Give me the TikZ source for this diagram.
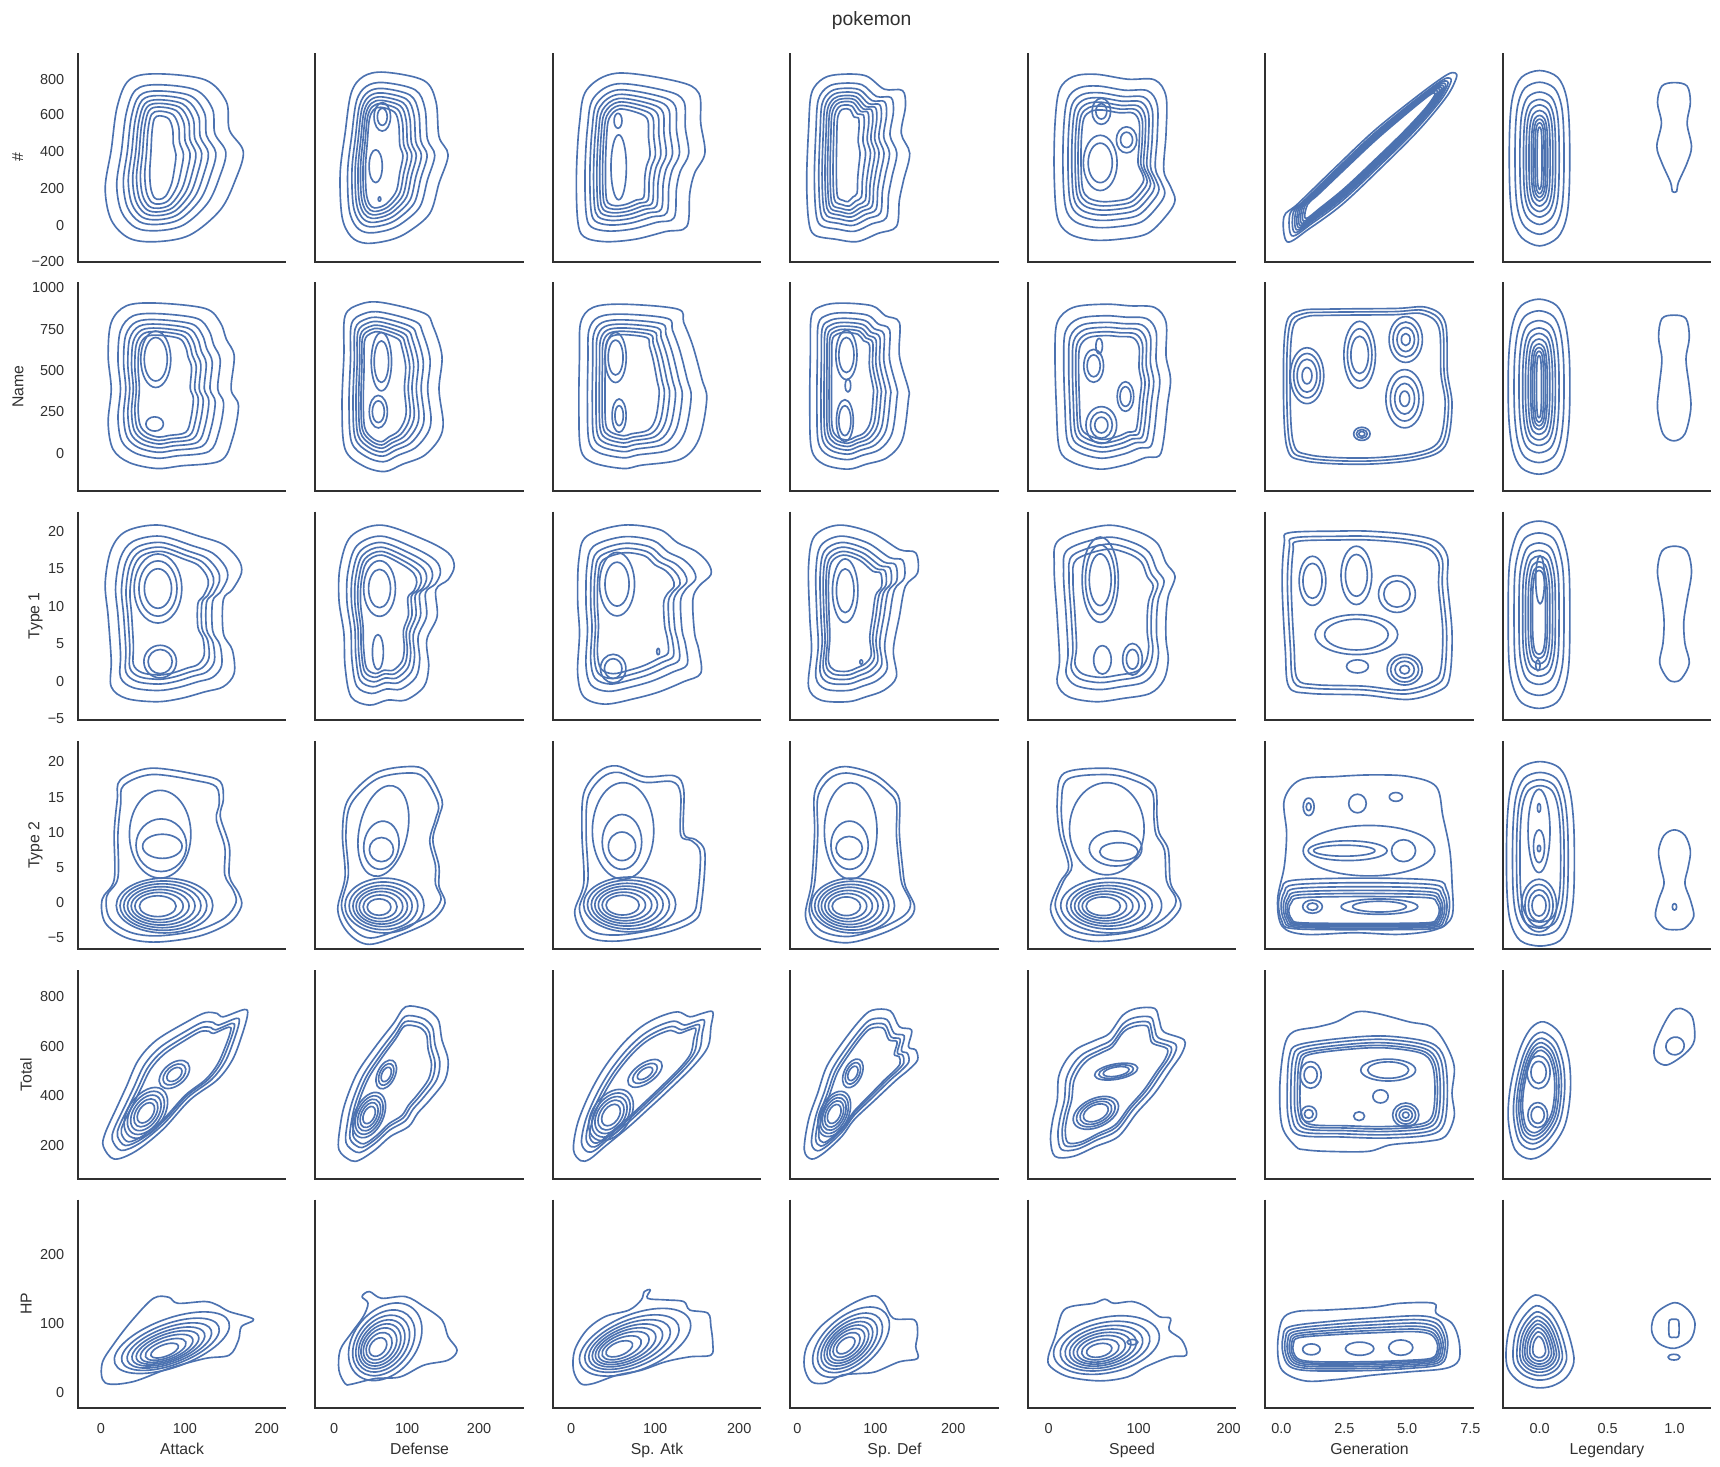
\documentclass[tikz,border=0pt]{standalone}
\usepackage{fontspec}
\setmainfont{Liberation Sans}
\definecolor{kdeblue}{HTML}{4C72B0}
\definecolor{axgray}{HTML}{303030}
\tikzset{
 kde/.style={draw=kdeblue,line width=1.5pt,line join=round},
 spine/.style={draw=axgray,line width=1.8pt},
 ticklab/.style={font=\fontsize{13.2}{15}\selectfont,text=axgray,inner sep=0pt},
 axlab/.style={font=\fontsize{14.4}{17}\selectfont,text=axgray,inner sep=0pt},
}
% nested contours interpolated between an outline and a scaled copy of it
\newcommand\kdeblob[7]{%
  \pgfmathsetmacro\bcs{cos(#5)}\pgfmathsetmacro\bsn{-sin(#5)}%
  \foreach \tk in {#6}{%
    \pgfmathsetmacro\bsa{#3+\tk*(1-#3)}%
    \pgfmathsetmacro\bsb{#4+\tk*(1-#4)}%
    \gdef\blobpts{}%
    \foreach \px/\py in {#7}{%
      \pgfmathsetmacro\bua{(\px-#1)*\bcs+(\py-#2)*\bsn}%
      \pgfmathsetmacro\bub{(\py-#2)*\bcs-(\px-#1)*\bsn}%
      \pgfmathsetmacro\bqx{#1+\bsa*\bua*\bcs-\bsb*\bub*\bsn}%
      \pgfmathsetmacro\bqy{#2+\bsa*\bua*\bsn+\bsb*\bub*\bcs}%
      \xdef\blobpts{\blobpts(\bqx,\bqy)}%
    }%
    \edef\blobcmd{\noexpand\draw[kde] plot[smooth cycle,tension=.55] coordinates {\blobpts};}%
    \blobcmd
  }%
}
% nested ellipses, centre moving from (#1,#2) to (#3,#4) as t goes to 1
\newcommand\snest[8]{%
  \foreach \tk in {#8}{%
    \pgfmathsetmacro\ncx{#1+\tk*(#3-#1)}%
    \pgfmathsetmacro\ncy{#2+\tk*(#4-#2)}%
    \pgfmathsetmacro\nra{\tk*#5}%
    \pgfmathsetmacro\nrb{\tk*#6}%
    \draw[kde,rotate around={#7:(\ncx,\ncy)}] (\ncx,\ncy) ellipse [x radius=\nra, y radius=\nrb];%
  }%
}
\newcommand\gnest[6]{\snest{#1}{#2}{#1}{#2}{#3}{#4}{#5}{#6}}
\begin{document}
\begin{tikzpicture}[x=1pt,y=-1pt]
\useasboundingbox (0,0) rectangle (1568,1336.5);

% ---------- spines ----------
\foreach \c in {0,...,6}{\foreach \r in {0,...,5}{%
  \pgfmathsetmacro\sx{71+216.5*\c}\pgfmathsetmacro\sy{48.5+209*\r}%
  \draw[spine] (\sx,\sy) -- (\sx,\sy+190) -- (\sx+190,\sy+190);
}}

% ---------- title and labels ----------
\node[font=\fontsize{17.6}{20}\selectfont,text=axgray,inner sep=0pt,anchor=base] (title) at (794.6,23.1) {pokemon};
\node[axlab,rotate=90,anchor=base] (yl0) at (21.1,143.5) {\#};
\node[axlab,rotate=90,anchor=base] (yl1) at (21.4,352.5) {Name};
\node[axlab,rotate=90,anchor=base] (yl2) at (35.8,561.5) {Type 1};
\node[axlab,rotate=90,anchor=base] (yl3) at (35.8,770.5) {Type 2};
\node[axlab,rotate=90,anchor=base] (yl4) at (28.8,979.5) {Total};
\node[axlab,rotate=90,anchor=base] (yl5) at (28.8,1188.5) {HP};
\foreach \x/\t [count=\i] in {166/Attack,382.5/Defense,599/Sp. Atk,815.5/Sp. Def,1032/Speed,1248.5/Generation,1465/Legendary}
  \node[axlab,anchor=base] (xl\i) at (\x,1325.7) {\t};

% y tick labels
\foreach \v/\y [count=\i] in {800/71.9,600/104.6,400/138,200/171.7,0/205.7,−200/238.5}
  \node[ticklab,anchor=base east] (ya\i) at (58.8,\y+4.73) {\v};
\foreach \v/\y [count=\i] in {1000/262.1,750/300.1,500/337.5,250/375.2,0/413.5}
  \node[ticklab,anchor=base east] (yb\i) at (58.8,\y+4.73) {\v};
\foreach \v/\y [count=\i] in {20/484.2,15/518.4,10/552.5,5/586.7,0/620.9,−5/655}
  \node[ticklab,anchor=base east] (yc\i) at (58.8,\y+4.73) {\v};
\foreach \v/\y [count=\i] in {20/694.3,15/726.4,10/758.5,5/790.6,0/822.8,−5/854.9}
  \node[ticklab,anchor=base east] (yd\i) at (58.8,\y+4.73) {\v};
\foreach \v/\y [count=\i] in {800/908.1,600/953.5,400/998.8,200/1044.2}
  \node[ticklab,anchor=base east] (ye\i) at (58.8,\y+4.73) {\v};
\foreach \v/\y [count=\i] in {200/1143.8,100/1206.5,0/1269.5}
  \node[ticklab,anchor=base east] (yf\i) at (58.8,\y+4.73) {\v};
% x tick labels
\foreach \v/\x [count=\i] in {0/91.9,100/168.6,200/243.2,0/304.6,100/371.2,200/436.7,0/520.7,100/597.3,200/673.9,0/727,100/798,200/869,0/956,100/1038,200/1120,0.0/1168.1,2.5/1225.5,5.0/1282.8,7.5/1340.5,0.0/1403.5,0.5/1465.5,1.0/1526.5}
  \node[ticklab,anchor=base] (xt\i) at (\x,1306.7) {\v};

% ================= ROW 1 : # =================
\begin{scope}[shift={(71,48.5)}]
\kdeblob{75}{95}{0}{0.38}{0}{1,.79,.67,.58,.5,.43,.36,.28,.19}{71.8/18.8,116/24.3,135.3/44.1,138.1/69.9,150.8/89.7,143.6/115.5,129.8/142.9,102.2/165.7,71.8/171.8,46.9/168.7,30.4/152,24.9/123.1,30.4/88.2,35.9/48.6,46.9/24.3}
\end{scope}
\begin{scope}[shift={(287.5,48.5)}]
\kdeblob{58}{95}{0.08}{0.42}{0}{1,.79,.67,.58,.5,.43,.36,.29}{63/17.3,98.9/24.9,109.9/44.1,112.7/76,121/92.7,112.7/118.6,104.4/145.9,85.1/162.6,68.5/170.2,46.4/173.3,32.6/167.2,24.3/149,22.6/109.4,27.1/73,32.6/36.5,43.6/21.3}
\gnest{61}{58}{7.5}{13}{0}{1,.6}
\gnest{55}{103}{6}{15}{0}{1}
\gnest{58.5}{133}{1.2}{2}{0}{1}
\end{scope}
\begin{scope}[shift={(504,48.5)}]
\kdeblob{62}{95}{0.08}{0.4}{0}{1,.79,.67,.58,.5,.43,.36,.29}{58.5/18.2,113.8/25.8,133.1/36.5,134.8/63.8,138.6/91.2,129.2/109.4,124.8/127.7,122.1/158,102.7/162.6,75.1/169.6,47.5/171.8,28.2/167.2,22.6/152,21.5/109.4,24.3/63.8,30.9/33.4}
\gnest{59.4}{61.6}{3.6}{6.8}{0}{1}
\gnest{60}{104}{7}{29.6}{0}{1}
\end{scope}
\begin{scope}[shift={(720.5,48.5)}]
\kdeblob{50}{90}{0.05}{0.45}{0}{1,.79,.67,.58,.5,.43,.36,.28,.19}{46.9/19.2,69/20.7,85.6/32.8,102.2/34,104.9/48.6,101.1/73,108.8/91.2,103.3/115.5,99.4/133.8,96.7/158,80.1/164.2,60.8/171.8,41.4/169.6,22.1/165.7,16.6/152,14.9/115.5,16.6/69.9,19.3/36.5,30.4/22.8}
\end{scope}
\begin{scope}[shift={(937,48.5)}]
\kdeblob{75}{92}{0.25}{0.3}{0}{1,.79,.67,.58,.5,.43,.36}{62/19.2,90.9/23.7,115.6/24.3,126/39.5,126/73,123.9/106.4,130.1/121.6,134.2/133.8,128/145.9,109.4/164.2,82.6/169.6,57.8/170.2,37.2/164.2,26.8/149,24/109.4,24.8/63.8,28.9/33.4,41.3/21.3}
\gnest{67}{53}{5}{7}{0}{1,1.7}
\gnest{90}{79}{5.5}{7}{0}{1,1.7}
\gnest{66}{100}{11}{18}{0}{1,1.4}
\end{scope}
\begin{scope}[shift={(1153.5,48.5)}]
\kdeblob{95}{92}{0.7}{0.3}{43}{1,.79,.67,.58,.5,.43,.36,.28,.19}{17/149,30/137,65/103,100/70,140/38,165/20,173/18,174/23,165/40,140/70,105/105,70/138,40/160,20/172}
\end{scope}
\begin{scope}[shift={(1370,48.5)}]
\kdeblob{33.5}{95.8}{0}{0.3}{0}{1,.81,.65,.53,.44,.35,.27,.21,.15,.08}{33.5/15.8,50/22,58/40,60.7/70,60.7/120,58/150,50/168,33.5/175.7,17/168,9/150,6.2/120,6.2/70,9/40,17/22}
\kdeblob{156.5}{77}{0}{0}{0}{1}{156.5/26.8,168/30,171/45,168/63.8,172/85,168/100,160/118,158.5/126,154.5/126,153/118,145/100,140.4/85,144.6/63.8,141/45,145/30}
\end{scope}

% ================= ROW 2 : Name =================
\begin{scope}[shift={(71,257.5)}]
\kdeblob{75}{95}{0.1}{0.4}{0}{1,.79,.67,.58,.5,.43,.36}{71.8/18.8,116/23.7,129.8/36.5,135.3/51.7,142.5/66.9,139.7/97.3,146.4/112.5,140.8/142.9,129.8/162.6,93.9/167.2,71.8/169.6,46.9/164.2,32/152,27.6/127.7,30.4/97.3,27.6/66.9,30.4/36.5,44.2/21.3}
\gnest{71}{70}{10.5}{19.8}{0}{1,1.3}
\gnest{70}{129}{8}{6.5}{0}{1}
\end{scope}
\begin{scope}[shift={(287.5,257.5)}]
\kdeblob{58}{95}{0.1}{0.45}{0}{1,.79,.67,.58,.5,.43,.36}{60.2/18.2,98.9/27.9,107.1/39.5,115.4/66.9,112.7/97.3,116.5/127.7,112.7/142.9,98.9/158,79.5/165.7,63/172.4,43.6/167.2,27.1/152,24.3/112.5,26/66.9,27.1/30.4,40.9/19.8}
\gnest{60.2}{72.2}{6.6}{19}{0}{1,1.4}
\gnest{57.4}{117.8}{5.5}{9.9}{0}{1,1.5}
\end{scope}
\begin{scope}[shift={(504,257.5)}]
\kdeblob{65}{92}{0.1}{0.4}{0}{1,.79,.67,.58,.5,.43,.36}{64.1/19.8,113.8/24.3,119.3/36.5,127.6/57.8,135.9/88.2,140.3/106.4,133.1/142.9,116.5/161.1,80.6/166.6,64.1/169.6,36.5/164.2,25.4/152,23.7/112.5,24.3/66.9,25.4/36.5,36.5/22.8}
\gnest{57.2}{68.4}{9.7}{22.8}{0}{1,.7}
\gnest{60.4}{121.4}{6.4}{15.2}{0}{1,.6}
\end{scope}
\begin{scope}[shift={(720.5,257.5)}]
\kdeblob{52}{95}{0.1}{0.45}{0}{1,.79,.67,.58,.5,.43,.36}{46.9/18.8,74.6/21.3,86.7/30.4,99.4/36.5,99.4/66.9,107.7/97.3,107.7/106.4,102.2/142.9,88.4/159.6,69/165.7,52.5/170.2,30.4/165.7,19.3/152,17.7/112.5,18.2/66.9,19.3/30.4,29.3/21.3}
\gnest{51.1}{66.1}{6.9}{16}{0}{1,1.4}
\gnest{52.5}{94}{2.5}{6}{0}{1}
\gnest{49.7}{126}{5.5}{13.7}{0}{1,1.4}
\end{scope}
\begin{scope}[shift={(937,257.5)}]
\kdeblob{72}{97}{0.2}{0.35}{0}{1,.79,.67,.58,.5,.43}{70.2/19.8,92.9/21.3,115.6/22.8,126/36.5,126/66.9,130.1/88.2,127.2/112.5,123.9/142.9,119.8/158,107.4/159.6,90.9/165.7,66.1/170.2,41.3/164.2,28.9/152,26/112.5,24.8/66.9,26.8/36.5,41.3/22.8}
\gnest{65}{58}{3}{7}{0}{1}
\gnest{60}{76}{6}{10}{0}{1,1.5}
\gnest{89}{104}{5}{9}{0}{1,1.5}
\gnest{67}{130}{10}{12}{0}{.6,1,1.4}
\end{scope}
\begin{scope}[shift={(1153.5,257.5)}]
\kdeblob{92}{95}{0.6}{0.6}{0}{1,.9,.8}{31.8/25.8,56.6/24.3,118.5/23.7,147.4/22.8,164/36.5,166/82.1,170.2/112.5,164/149,139.2/161.1,89.6/165.7,35.9/162.6,19.4/149,16.5/82.1,19.4/36.5}
\gnest{38}{85}{9}{15}{0}{.5,1,1.35,1.7}
\gnest{86}{66}{8}{17}{0}{1,1.4,1.8}
\gnest{128}{52}{8}{11}{0}{.5,1,1.45,1.9}
\gnest{127}{106}{9}{14}{0}{.5,1,1.45,1.9}
\gnest{88}{138}{5}{4}{0}{.55,1,1.5}
\end{scope}
\begin{scope}[shift={(1370,257.5)}]
\kdeblob{33}{95}{0}{0.3}{0}{1,.81,.65,.53,.44,.35,.27,.21,.15,.08}{33/15.2,49/21,57/38,60.7/70,60.7/120,57/152,49/169,33/174.8,17/169,9/152,5.3/120,5.3/70,9/38,17/21}
\kdeblob{156}{87}{0}{0}{0}{1}{156/29.8,167/33,170/50,167/70,170/95,171.4/115,166/138,156/144.4,146/138,141/115,142.5/95,145/70,142/50,145/33}
\end{scope}

% ================= ROW 3 : Type 1 =================
\begin{scope}[shift={(71,466.5)}]
\kdeblob{78}{92}{0.15}{0.4}{0}{1,.79,.67,.58,.5}{74.6/12.2,110.5/22.3,132.6/29.9,146.4/43.6,149.1/55.8,140.8/71.1,132.6/80.2,132.6/110.7,140.8/126,142.5/147.3,132.6/159.5,116/164.1,93.9/170.2,71.8/173.2,44.2/170.2,30.4/159.5,30.4/135.1,27.6/95.5,24.9/65,30.4/34.5,44.2/17.7}
\gnest{73}{70}{12.4}{18}{0}{1,1.4,1.75}
\gnest{75}{136.6}{11}{11}{0}{1,1.35}
\end{scope}
\begin{scope}[shift={(287.5,466.5)}]
\kdeblob{60}{92}{0.1}{0.4}{0}{1,.79,.67,.58,.5,.43}{60.2/12.2,98.9/25.3,121/37.5,126.6/49.7,121/61.9,109.9/71.1,111/95.5,101.6/116.8,103.3/141.2,98.9/159.5,82.3/171.7,65.7/171.7,49.2/176.3,32.6/168.7,27.1/141.2,26/110.7,21.5/80.2,22.6/49.7,32.6/22.3}
\gnest{58.5}{70}{10}{17.5}{0}{1,1.45}
\gnest{57}{128}{5}{16}{0}{1}
\end{scope}
\begin{scope}[shift={(504,466.5)}]
\kdeblob{65}{90}{0.15}{0.35}{0}{1,.79,.67,.58,.5}{64.1/12.2,97.2/16.2,113.8/28.4,130.3/36,141.4/46.7,144.1/57.3,133.1/68,127.6/80.2,129.2/110.7,133.1/126,134.8/147.3,119.3/154.9,97.2/164.1,75.1/170.2,47.5/175.4,28.2/168.7,22.6/147.3,24.3/110.7,22.6/80.2,23.7/43.6,30.9/22.3}
\gnest{58.5}{66}{11}{20}{0}{1,1.45}
\gnest{55}{143}{8}{9}{0}{1,1.45}
\gnest{96}{127.5}{1.3}{3}{0}{1}
\end{scope}
\begin{scope}[shift={(720.5,466.5)}]
\kdeblob{52}{92}{0.1}{0.4}{0}{1,.79,.67,.58,.5,.43}{44.2/12.2,74.6/19.2,99.4/34.5,114.3/37.5,116/55.8,104.9/68,99.4/95.5,93.9/126,96.7/150.4,85.6/162.6,69/168.7,52.5/173.2,27.6/171.7,16.6/159.5,19.3/126,17.7/95.5,16.6/49.7,22.1/22.3}
\gnest{50}{72}{8}{20}{0}{1,1.45}
\gnest{64.6}{137}{1.3}{2}{0}{1}
\end{scope}
\begin{scope}[shift={(937,466.5)}]
\kdeblob{75}{92}{0.2}{0.35}{0}{1,.79,.67,.58}{70.2/12.5,99.1/17.7,117.7/28.4,126/46.7,134.2/58.9,128/77.2,126/95.5,126/116.8,128/135.1,123.9/153.4,111.5/165.6,86.7/170.2,62/173.2,37.2/168.7,26.8/156.5,28.9/135.1,26.8/95.5,24/49.7,28.9/25.3}
\gnest{66}{62}{10}{23.6}{0}{1,1.35,1.65}
\gnest{95.4}{134.5}{5.6}{9}{0}{1,1.6}
\gnest{68}{135}{8}{13}{0}{1}
\end{scope}
\begin{scope}[shift={(1153.5,466.5)}]
\kdeblob{92}{92}{0.55}{0.55}{0}{1,.86,.76}{21.5/19.2,64.8/17.7,93.8/17.7,130.9/20.7,155.7/26.8,166/40.6,166/65,170.2/110.7,168.1/150.4,159.8/162.6,130.9/171.1,89.6/167.1,40.1/165.6,21.5/159.5,18.2/126,15.3/65,17.3/28.4}
\gnest{43}{63}{8.7}{16}{0}{1,1.4}
\gnest{83}{58}{10}{19}{0}{1,1.4}
\gnest{120}{75}{12}{12}{0}{1,1.4}
\gnest{83}{112}{29}{14}{0}{1,1.3}
\gnest{84}{141}{10}{6}{0}{1}
\gnest{127}{144}{16}{14}{0}{.28,.55,.8,1}
\end{scope}
\begin{scope}[shift={(1370,466.5)}]
\kdeblob{33}{90}{0}{0.3}{0}{1,.81,.65,.53,.44,.35,.27,.21}{33/8.5,49/14,57/32,60.7/60,60.7/130,57/158,49/174,33/179.3,17/174,9/158,5.3/130,5.3/60,9/32,17/14}
\gnest{34}{62}{4}{22}{0}{1}
\gnest{32}{140}{2}{5}{0}{1}
\kdeblob{156.5}{93}{0}{0}{0}{1}{156.5/31.4,168/36,172/55,168/80,165/100,166/120,170/138,163/152,156.5/155,150/152,143/138,146/120,147/100,145/80,141/55,145/36}
\end{scope}

% ================= ROW 4 : Type 2 =================
\begin{scope}[shift={(71,675.5)}]
\kdeblob{80}{105}{0.1}{0.1}{0}{1,.92}{66.3/24.8,110.5/30.9,129.8/37,132.6/53.6,129.8/68.8,138.1/96.1,138.1/123.3,146.4/138.5,149.1/150.6,138.1/165.7,110.5/177.9,71.8/183.3,44.2/179.4,24.9/165.7,22.1/144.5,33.1/126.4,33.1/83.9,35.9/53.6,38.7/35.5}
\gnest{75}{85}{28}{40}{0}{1}
\gnest{76}{95}{23}{24}{0}{1}
\gnest{77}{96}{18}{11}{0}{1}
\snest{69}{151}{79}{150}{44}{25}{0}{.38,.5,.6,.7,.8,.9,1}
\end{scope}
\begin{scope}[shift={(287.5,675.5)}]
\kdeblob{68}{105}{0.1}{0.1}{0}{1,.92}{85.1/23.3,101.6/27.9,115.4/53.6,112.7/68.8,107.1/90,112.7/114.2,112.7/132.4,118.2/147.6,107.1/162.7,82.3/174.8,49.2/185.4,29.8/174.8,20.4/153.6,27.1/123.3,24.7/83.9,29.8/53.6,54.7/29.4}
\gnest{62}{82}{22}{42}{-12}{1}
\gnest{60.2}{95}{16}{22}{-8}{1}
\gnest{60.2}{99}{11}{11}{0}{1}
\snest{56}{152}{63}{150}{36}{25}{0}{.3,.43,.55,.65,.75,.87,1}
\end{scope}
\begin{scope}[shift={(504,675.5)}]
\kdeblob{80}{105}{0.1}{0.1}{0}{1,.92}{58.5/22.7,83.4/32.4,111/31.8,119.3/44.5,119.3/83.9,130.3/90,138.6/102.1,135.9/144.5,130.3/162.7,102.7/174.8,58.5/182.4,30.9/177.9,19.9/156.7,28.2/129.4,26.5/83.9,28.2/47.6,42/27.9}
\gnest{64}{82}{28}{44}{0}{1}
\gnest{63}{92}{18}{25}{0}{1}
\gnest{63}{96}{12.4}{13}{0}{1}
\snest{60}{150}{70}{149}{42}{25}{0}{.36,.47,.58,.68,.78,.89,1}
\end{scope}
\begin{scope}[shift={(720.5,675.5)}]
\kdeblob{62}{105}{0.1}{0.1}{0}{1,.92}{49.7/23.3,74.6/29.4,91.1/41.5,99.4/53.6,99.4/83.9,102.2/114.2,104.9/132.4,113.2/150.6,107.7/162.7,85.6/174.8,52.5/183.9,24.9/177.9,13.8/159.7,19.3/129.4,22.1/83.9,22.1/47.6,33.1/29.4}
\gnest{55}{82}{24}{44}{0}{1}
\gnest{54}{95}{17}{22}{0}{1}
\gnest{53.6}{97.6}{12}{10.6}{0}{1}
\snest{48}{151}{57}{150}{38}{25}{0}{.34,.46,.57,.68,.78,.89,1}
\end{scope}
\begin{scope}[shift={(937,675.5)}]
\kdeblob{80}{105}{0.1}{0.1}{0}{1,.92}{70.2/24.8,95/29.4,115.6/41.5,117.7/68.8,119.8/83.9,128/99.1,130.1/129.4,138.4/144.5,138.4/153.6,128/165.7,111.5/174.8,86.7/180.9,57.8/182.4,33/174.8,20.7/153.6,28.9/129.4,37.2/114.2,28.9/83.9,26.8/53.6,33/29.4}
\gnest{72}{80}{34}{42}{0}{1}
\gnest{80}{98}{24}{16}{0}{1}
\gnest{83}{101}{17.5}{8.3}{0}{1}
\snest{65}{151}{76}{150}{46}{25}{0}{.34,.44,.54,.64,.74,.85,1}
\end{scope}
\begin{scope}[shift={(1153.5,675.5)}]
\kdeblob{92}{105}{0.1}{0.1}{0}{1}{31.8/35.5,64.8/32.4,97.9/30.9,130.9/32.4,155.7/41.5,161.9/68.8,168.1/99.1,170.2/129.4,170.2/159.7,155.7/171.8,122.7/176.3,81.4/174.8,35.9/176.3,15.3/168.8,11.2/144.5,17.3/114.2,19.4/83.9,17.3/53.6}
\kdeblob{90}{160}{0.8}{0.2}{0}{1,.85,.72,.6,.5,.4}{25/127,90/125,155/127,165/135,168/149,165/164,155/171,90/172,25/171,15/164,12/149,15/135}
\gnest{43}{151}{9}{6}{0}{1,.55}
\gnest{104}{151}{35}{7}{0}{1,.7}
\gnest{94.5}{100}{60}{23}{0}{1}
\gnest{75}{100}{36}{9}{0}{1}
\gnest{72}{100}{28}{5}{0}{1}
\gnest{126}{100}{11}{10}{0}{1}
\gnest{39.5}{60}{5}{8}{0}{1,.45}
\gnest{84}{57}{8}{8.5}{0}{1}
\gnest{119}{51}{6}{4}{0}{1}
\end{scope}
\begin{scope}[shift={(1370,675.5)}]
\kdeblob{34}{103}{0}{0.35}{0}{1,.82,.7,.6}{34/18.8,52/25,61/45,64.8/80,64.8/135,61/165,52/182,34/186.9,16/182,7/165,3.7/135,3.7/80,7/45,16/25}
\gnest{33}{82}{10}{38}{0}{1}
\gnest{33}{96}{5}{15}{0}{1}
\gnest{33}{98}{1.5}{3}{0}{1}
\gnest{33}{61}{1.5}{4}{0}{1}
\gnest{33}{150}{16}{24}{0}{.4,.6,.8,1}
\kdeblob{156.5}{128}{0}{0}{0}{1}{156.5/81,166/86,171/100,169/115,166/130,171/145,174/160,166/170.5,156.5/172,147/170.5,139.2/160,142/145,147/130,144/115,142/100,147/86}
\gnest{156.5}{151.2}{2}{3}{0}{1}
\end{scope}

% ================= ROW 5 : Total =================
\begin{scope}[shift={(71,884.5)}]
\kdeblob{90}{105}{0.45}{0.2}{48}{1,.79,.67,.58}{33.1/172.1,23.2/160.6,24.9/148.5,35.9/124.2,44.2/106.1,55.2/81.8,71.8/63.6,99.4/47,116/38.8,127/39.4,132.6/42.4,151.9/35.8,154.6/40.9,149.1/60.6,140.8/81.8,127/100,102.2/118.2,77.3/145.4,52.5/165.1}
\gnest{62}{130}{26}{16}{55}{.4,.55,.7,.85,1}
\gnest{88}{95}{16}{10}{40}{.5,.75,1}
\end{scope}
\begin{scope}[shift={(287.5,884.5)}]
\kdeblob{70}{105}{0.45}{0.2}{64}{1,.79,.67,.58}{32.6/173.6,21.5/163.6,22.6/142.4,27.1/121.2,38.1/93.9,54.7/69.7,71.2/48.5,82.3/33.3,98.9/34.8,107.1/39.4,112.7/47,115.4/63.6,121/81.8,118.2/100,104.4/118.2,93.3/130.3,85.1/142.4,68.5/151.5,54.7/163.6,40.9/172.7}
\gnest{49}{132}{22}{13}{65}{.38,.55,.7,.85,1}
\gnest{64.6}{95}{14}{8}{65}{.5,.75,1}
\end{scope}
\begin{scope}[shift={(504,884.5)}]
\kdeblob{80}{105}{0.45}{0.2}{48}{1,.79,.67,.58}{25.4/173.6,18.8/163.6,22.6/139.4,33.7/112.1,47.5/87.9,64.1/66.7,80.6/51.5,97.2/42.4,113.8/37.9,124.8/42.4,135.9/39.4,145.8/37.9,144.1/51.5,141.4/69.7,127.6/87.9,102.7/112.1,86.2/127.3,69.6/142.4,47.5/160.6,33.7/172.1}
\gnest{53}{132}{26}{17}{55}{.42,.58,.72,.86,1}
\gnest{84}{94}{18}{9}{35}{.45,.72,1}
\end{scope}
\begin{scope}[shift={(720.5,884.5)}]
\kdeblob{62}{105}{0.45}{0.2}{64}{1,.79,.67,.58}{19.3/172.1,12.7/163.6,16.6/136.4,24.9/112.1,33.1/87.9,46.9/66.7,63.5/45.5,74.6/36.4,91.1/37,99.4/51.5,110.5/54.5,107.7/69.7,114.3/72.7,116/81.8,107.7/90.9,96.7/100,77.3/118.2,58/136.4,46.9/151.5,30.4/166.7}
\gnest{40}{131}{22}{13}{65}{.42,.58,.72,.86,1}
\gnest{57}{94}{14}{8}{65}{.5,.75,1}
\end{scope}
\begin{scope}[shift={(937,884.5)}]
\kdeblob{78}{108}{0.5}{0.3}{55}{1,.79,.67,.58}{24.8/169.7,20.7/154.5,22.7/136.4,26.8/118.2,28.1/97,35.1/81.8,45.4/71.2,62/63.6,74.3/57.6,86.7/40.9,99.1/34.8,115.6/34.8,119.8/45.5,123.9/56.1,142.5/63.6,140.4/75.8,130.1/90.9,115.6/112.1,99.1/130.3,82.6/151.5,62/160.6,41.3/169.7}
\gnest{62}{130}{22}{13}{25}{.55,.7,.85,1}
\gnest{80.5}{92.4}{20}{7}{10}{.6,.8,1}
\end{scope}
\begin{scope}[shift={(1153.5,884.5)}]
\kdeblob{94}{105}{0}{0}{0}{1}{27.7/160.6,15.3/142.4,13.2/106.1,17.3/69.7,25.6/56.1,48.3/51.5,64.8/47,83.4/37.9,102/39.4,130.9/47,151.6/51.5,164/66.7,172.2/87.9,170.2/112.1,172.2/133.3,164/151.5,147.4/156,114.4/159.1,93.8/165.1,56.6/165.1,35.9/163.6}
\kdeblob{94}{107}{0.55}{0.35}{0}{1,.9,.8,.72,.65}{30/68,70/62,110/60,150/66,163/80,166/110,163/140,150/150,110/153,70/152,30/150,21/135,20/105,22/78}
\gnest{41.3}{95.4}{6}{7.6}{0}{1,1.6}
\gnest{112}{91}{25}{10}{0}{1,.75}
\gnest{39.6}{131}{4}{4}{0}{1,1.8}
\gnest{85.5}{133}{5}{4}{0}{1}
\gnest{105}{115}{7}{6}{0}{1}
\gnest{128}{132}{12}{11}{0}{.25,.5,.75,1}
\end{scope}
\begin{scope}[shift={(1370,884.5)}]
\kdeblob{32}{112}{0.15}{0.3}{0}{1,.79,.67,.58,.5,.43}{37.6/47,52/57.6,60.3/81.8,61.5/112.1,56.2/142.4,42.1/163.6,25.6/172.1,11.2/163.6,5/136.4,7/106.1,15.3/72.7,25.6/53}
\gnest{32.6}{93}{7}{10}{0}{1,1.5}
\gnest{31.8}{132}{6}{7.6}{0}{1,1.5}
\kdeblob{157}{62}{0}{0}{0}{1}{162.3/34.8,172.6/42.4,174.7/63.6,166.4/75.8,149.9/86.3,139.5/81.8,138.3/69.7,145.7/51.5,154/37.9}
\gnest{157}{69}{8.5}{8}{30}{1}
\end{scope}

% ================= ROW 6 : HP =================
\begin{scope}[shift={(71,1093.5)}]
\kdeblob{90}{128}{0}{0}{0}{1}{24.9/167.1,22.1/149.5,33.1/131.2,49.7/109.8,69/90,82.8/89.1,91.1/94.6,116/93,127/96.1,138.1/102.2,160.2/109.2,149.1/115.9,146.4/128.1,138.1/141.8,116/144.9,82.8/154,49.7/166.2}
\snest{77}{140}{88}{128}{70}{28}{20}{.19,.28,.36,.43,.5,.58,.67,.79}
\end{scope}
\begin{scope}[shift={(287.5,1093.5)}]
\kdeblob{75}{128}{0}{0}{0}{1}{27.1/167.8,21.5/155.6,22.6/137.3,32.6/122,43.6/106.8,48/94.6,42.5/88.5,49.2/83.9,60.2/90,82.3/88.5,98.9/97.6,115.4/109.8,121/125.1,129.2/137.3,121/146.4,98.9/151,77.3/161.7,54.7/163.2,32.6/168.4}
\snest{55}{136}{66}{128}{50}{36}{50}{.19,.28,.36,.43,.5,.58,.67,.79}
\end{scope}
\begin{scope}[shift={(504,1093.5)}]
\kdeblob{85}{128}{0}{0}{0}{1}{25.4/167.8,18.8/155.6,19.9/137.3,30.9/119,47.5/106.8,69.6/100.7,80.6/91.5,83.4/83.9,88.9/82.4,86.2/90,102.7/91.5,119.3/93,124.8/100.7,141.4/103.7,144.1/115.9,145.8/131.2,144.1/141.8,124.8/143.4,102.7/147.9,80.6/155.6,58.5/160.1,36.5/167.8}
\snest{56}{138}{80}{128}{68}{32}{22}{.19,.28,.36,.43,.5,.58,.67,.79}
\end{scope}
\begin{scope}[shift={(720.5,1093.5)}]
\kdeblob{65}{128}{0}{0}{0}{1}{19.3/166.2,12.7/152.5,14.9/134.2,27.6/115.9,46.9/100.7,63.5/91.5,77.3/87.8,85.6/94.6,93.9/108.3,113.2/109.8,116/122,114.3/134.2,116/144.9,99.4/147.9,77.3/157.1,63.5/158.6,46.9/160.1,33.1/167.1}
\snest{49}{134}{57}{129}{52}{30}{40}{.19,.28,.36,.43,.5,.58,.67,.79}
\end{scope}
\begin{scope}[shift={(937,1093.5)}]
\kdeblob{80}{128}{0}{0}{0}{1}{37.2/161.7,20.7/152.5,18.6/143.4,24.8/125.1,31/103.7,39.2/97.6,59.9/94.6,70.2/90.9,78.5/94.6,95/93,107.4/97.6,119.8/106.8,130.1/108.3,128.9/119,140.4/128.1,144.6/141.8,130.1/143.4,107.4/152.5,90.9/161.7,66.1/165.3}
\snest{63}{139}{74}{131}{62}{32}{12}{.19,.28,.36,.43,.5,.58,.67,.79}
\gnest{95.4}{130}{5}{2.5}{0}{1}
\end{scope}
\begin{scope}[shift={(1153.5,1093.5)}]
\kdeblob{95}{130}{0}{0}{0}{1}{35.9/165.3,15.3/155.6,11.2/134.2,15.3/109.8,27.7/102.2,56.6/100.7,97.9/98.2,122.7/94.6,153.6/94.6,155.7/103.7,170.2/112.9,176.4/128.1,176.4/146.4,164/154,130.9/157.1,97.9/160.1,64.8/164.1}
\kdeblob{93}{138}{0.75}{0.1}{0}{1,.88,.77,.67,.58,.5}{22/116,60/111,100/108,140/106,158/110,165/122,166/136,160/150,130/154,90/156,40/156,22/152,16/140,16/126}
\gnest{42}{136.6}{8}{5}{0}{1}
\gnest{86}{136}{13}{6}{0}{1}
\gnest{123.5}{135}{11}{7}{0}{1}
\end{scope}
\begin{scope}[shift={(1370,1093.5)}]
\kdeblob{33}{136}{0}{0.05}{0}{1,.79,.67,.58,.5,.43,.36,.28,.19}{29.7/87,45/95,55/110,62/130,64.8/148,58/162,45/170,30/171.5,15/166,5/155,2.9/140,6/118,15/100}
\kdeblob{156}{115}{0}{0}{0}{1}{156.5/94,169/100.7,175.2/112.9,171/128,156.5/135.7,142/131,135.6/119,139.8/103.7}
\kdeblob{156}{117.4}{0}{0}{0}{1}{156/109.2,160/110,160.7/117.4,160/125,156/125.6,152/125,151.3/117.4,152/110}
\gnest{156}{143.7}{5.5}{2.6}{0}{1}
\end{scope}
\end{tikzpicture}
\end{document}
